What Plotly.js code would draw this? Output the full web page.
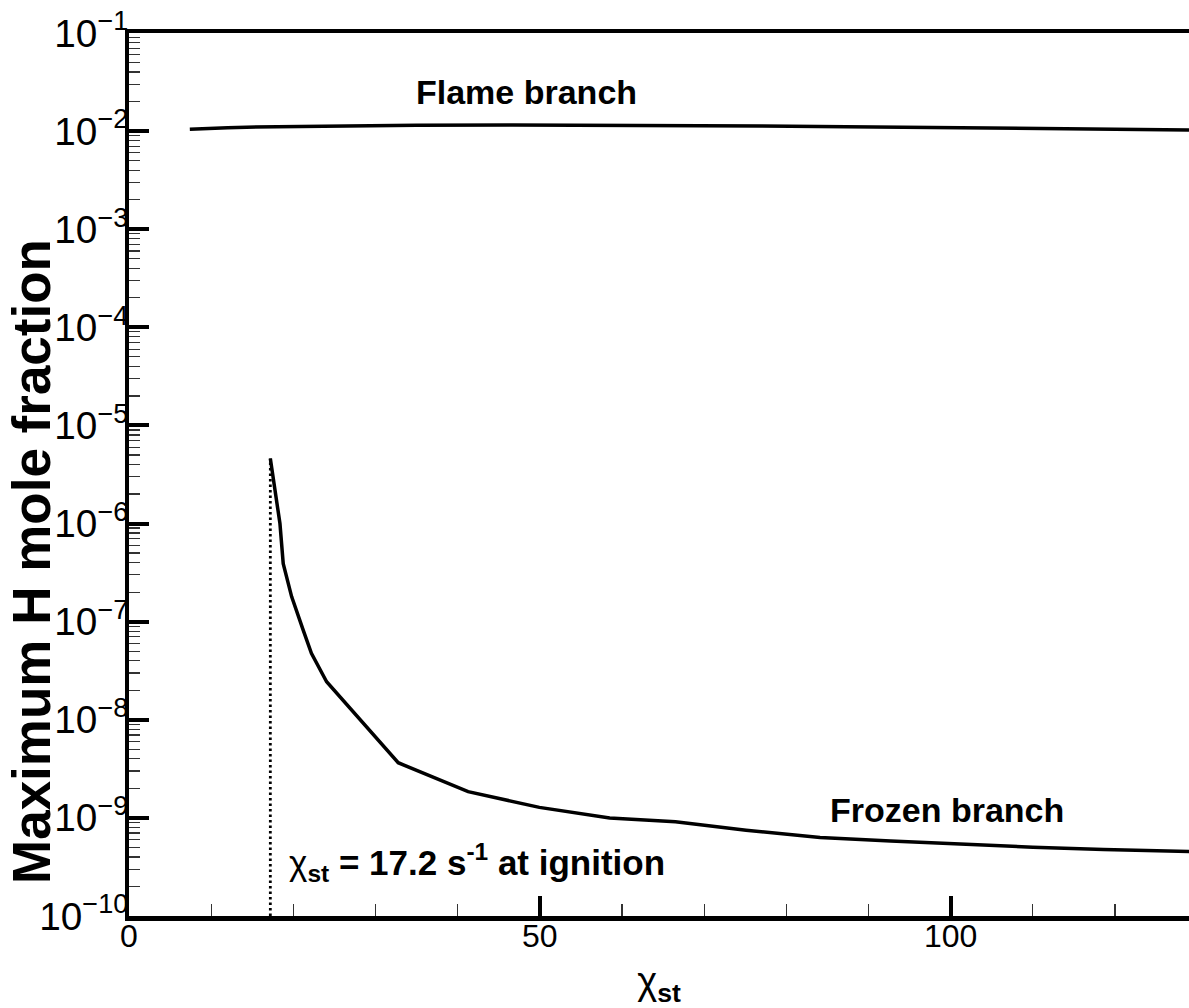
<!DOCTYPE html>
<html>
<head>
<meta charset="utf-8">
<script src="https://cdn.plot.ly/plotly-3.0.1.min.js"></script>
<style>html,body{margin:0;padding:0;background:#fff;}#chart{width:1189px;height:1008px;}</style>
</head>
<body>
<div id="chart"></div>
<script>
// Flame branch (upper, burning solution)
const flameChi = [7.4, 12, 18, 24.5, 35, 46.7, 57, 67, 77, 87.3, 97, 107.6, 118, 129];
const flameH   = [0.01043, 0.01085, 0.0111, 0.01127, 0.01145, 0.01153, 0.0115, 0.01146, 0.0113, 0.0111, 0.0109, 0.01066, 0.01045, 0.01026];

// Frozen branch (lower, non-burning solution)
const frozenChi = [17.2, 17.8, 18.37, 18.77, 19.79, 21.2, 22.2, 24.05, 32.76, 41.27, 49.94, 58.5, 66.5, 75.1, 84.1, 92.7, 101.3, 110, 118.6, 127.2, 135.8];
const frozenH   = [4.6e-6, 2.2e-6, 1.0e-6, 3.9e-7, 1.8e-7, 8.2e-8, 4.75e-8, 2.44e-8, 3.65e-9, 1.85e-9, 1.28e-9, 1.0e-9, 0.912e-9, 0.75e-9, 0.632e-9, 0.58e-9, 0.537e-9, 0.503e-9, 0.475e-9, 0.454e-9, 0.44e-9];

// Ignition marker
const ignitionChi = [17.2, 17.2];
const ignitionH   = [1e-10, 4.6e-6];

const FONT = "Liberation Sans, Arial, Helvetica, sans-serif";

const traces = [
  {x: flameChi, y: flameH, mode: 'lines', line: {color: '#000', width: 3.5}, hoverinfo: 'skip'},
  {x: frozenChi, y: frozenH, mode: 'lines', line: {color: '#000', width: 3.5}, hoverinfo: 'skip'},
  {x: ignitionChi, y: ignitionH, mode: 'lines', line: {color: '#000', width: 2.8, dash: '2.5px,3px'}, hoverinfo: 'skip'}
];

const layout = {
  width: 1189, height: 1008,
  margin: {l: 129, r: 0, t: 33, b: 92},
  paper_bgcolor: '#fff', plot_bgcolor: '#fff',
  showlegend: false,
  font: {family: FONT, color: '#000'},
  xaxis: {
    range: [0, 129], showgrid: false, zeroline: false,
    showline: true, linecolor: '#000', linewidth: 4.5, mirror: true,
    ticks: 'inside', dtick: 50, tick0: 0, ticklen: 20, tickwidth: 4, tickcolor: '#000',
    minor: {ticks: 'inside', dtick: 10, ticklen: 12, tickwidth: 1.2, tickcolor: '#333', showgrid: false},
    tickfont: {family: FONT, size: 32, color: '#000'},
    ticklabelstandoff: -12,
    title: {text: 'χ<sub><b>st</b></sub>', font: {family: FONT, size: 38, color: '#000'}, standoff: 22}
  },
  yaxis: {
    type: 'log', range: [-10, -1], showgrid: false, zeroline: false,
    showline: true, linecolor: '#000', linewidth: 4.5, mirror: false,
    ticks: 'inside', dtick: 1, ticklen: 20, tickwidth: 4, tickcolor: '#000',
    minor: {ticks: 'inside', dtick: 'D1', ticklen: 11, tickwidth: 1.2, tickcolor: '#333', showgrid: false},
    exponentformat: 'power',
    tickfont: {family: FONT, size: 31, color: '#000'},
    ticklabelstandoff: -10
  },
  annotations: [
    {xref: 'paper', yref: 'paper', x: -0.0925, y: 0.402, xanchor: 'center', yanchor: 'middle',
     textangle: -90, showarrow: false, text: 'Maximum H mole fraction',
     font: {family: FONT, size: 53, weight: 'bold', color: '#000'}},
    {x: 48.4, y: Math.log10(0.0251), xref: 'x', yref: 'y', showarrow: false, xanchor: 'center', yanchor: 'middle',
     text: 'Flame branch', font: {family: FONT, size: 34, weight: 'bold', color: '#000'}},
    {x: 99.6, y: Math.log10(1.2e-9), xref: 'x', yref: 'y', showarrow: false, xanchor: 'center', yanchor: 'middle',
     text: 'Frozen branch', font: {family: FONT, size: 34, weight: 'bold', color: '#000'}},
    {x: 19.2, y: Math.log10(3.55e-10), xref: 'x', yref: 'y', showarrow: false, xanchor: 'left', yanchor: 'middle',
     text: 'χ<sub><b>st</b></sub><b> = 17.2 s<sup>-1</sup> at ignition</b>',
     font: {family: FONT, size: 35, color: '#000'}}
  ]
};

Plotly.newPlot('chart', traces, layout, {displayModeBar: false, staticPlot: true});
</script>
</body>
</html>
